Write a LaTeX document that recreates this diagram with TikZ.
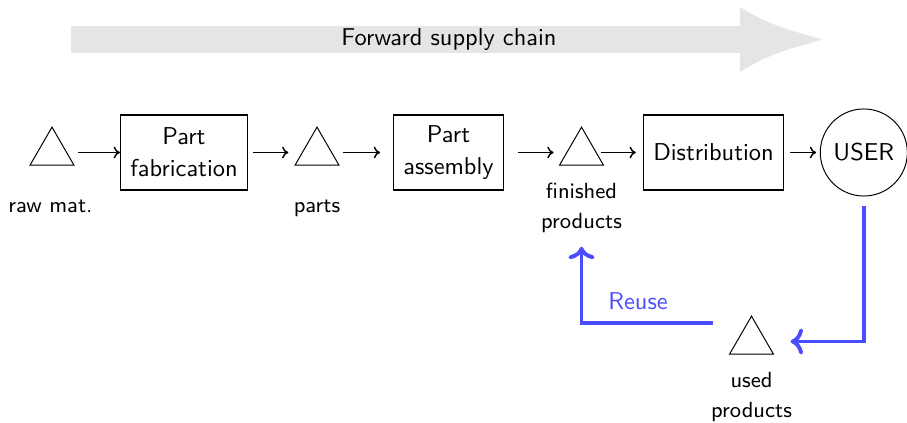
\documentclass[tikz,border=0pt]{standalone}
\usetikzlibrary{arrows.meta}
\usetikzlibrary{shapes.geometric}
\renewcommand{\familydefault}{\sfdefault}
\colorlet{chainfill}{gray!20}
\colorlet{returnflow}{blue!70}

\tikzset{
  stock/.style={regular polygon, regular polygon sides=3, draw, inner sep=0pt, minimum size=20.8pt},
  process/.style={draw, line width=0.5pt, rectangle, align=center, inner sep=4pt, minimum height=30.8pt},
  stocklabel/.style={font=\small, align=center, anchor=base},
  flow/.style={line width=0.6pt, -{To[length=2.6pt,width=4.8pt]}},
  backflow/.style={->, returnflow, ultra thick},
}

\begin{document}
\begin{tikzpicture}[x=0.41pt, y=0.41pt]
  \useasboundingbox (0,0) rectangle (907,-423);
  % supply chain direction
  \coordinate (chainstart) at (71,-39.5);
  \coordinate (chainend) at (827,-39.5);
  \draw[chainfill, line width=10.7pt, -{Latex[length=35.7pt,width=26.7pt]}] (chainstart) -- (chainend)
    node[midway, text=black] {Forward supply chain};

  % stocks and processes
  \node[stock] (raw) at (52,-152.5) {};
  \node[process] (fab) at (184,-152.5) {Part\\[1pt]fabrication};
  \node[stock] (parts) at (317,-152.5) {};
  \node[process] (asm) at (448.5,-152.5) {Part\\[1pt]assembly};
  \node[stock] (fin) at (581.5,-152.5) {};
  \node[process] (dist) at (713.5,-152.5) {Distribution};
  \node[circle, draw, minimum size=35.7pt, inner sep=0pt] (user) at (863.8,-152.5) {USER};
  \node[stock] (used) at (751.5,-341.5) {};

  % stock labels (base = last line)
  \node[stocklabel] (rawlbl) at (50.5,-212.7) {raw~mat.};
  \node[stocklabel] (partslbl) at (317,-212.7) {parts};
  \node[stocklabel] (finlbl) at (581.5,-229) {finished\\[1.3pt]products};
  \node[stocklabel] (usedlbl) at (751.5,-418) {used\\[1.3pt]products};

  % forward flow
  \foreach \a/\b/\s/\e in {raw/fab/4.6/0, fab/parts/2/5.5, parts/asm/4.6/5.3,
                           asm/fin/5.7/5.2, fin/dist/1.6/2.9, dist/user/2.5/1.5}
    \draw[flow, shorten <=\s pt, shorten >=\e pt] (\a) -- (\b);

  % return flow
  \draw[backflow, shorten <=4pt, shorten >=9.8pt] (user) |- (used);
  \coordinate (reusestart) at (713,-322.7);
  \draw[backflow, shorten >=2pt] (reusestart) -| (finlbl.south)
    node[pos=0.285, above, yshift=1pt] {Reuse};
\end{tikzpicture}
\end{document}
